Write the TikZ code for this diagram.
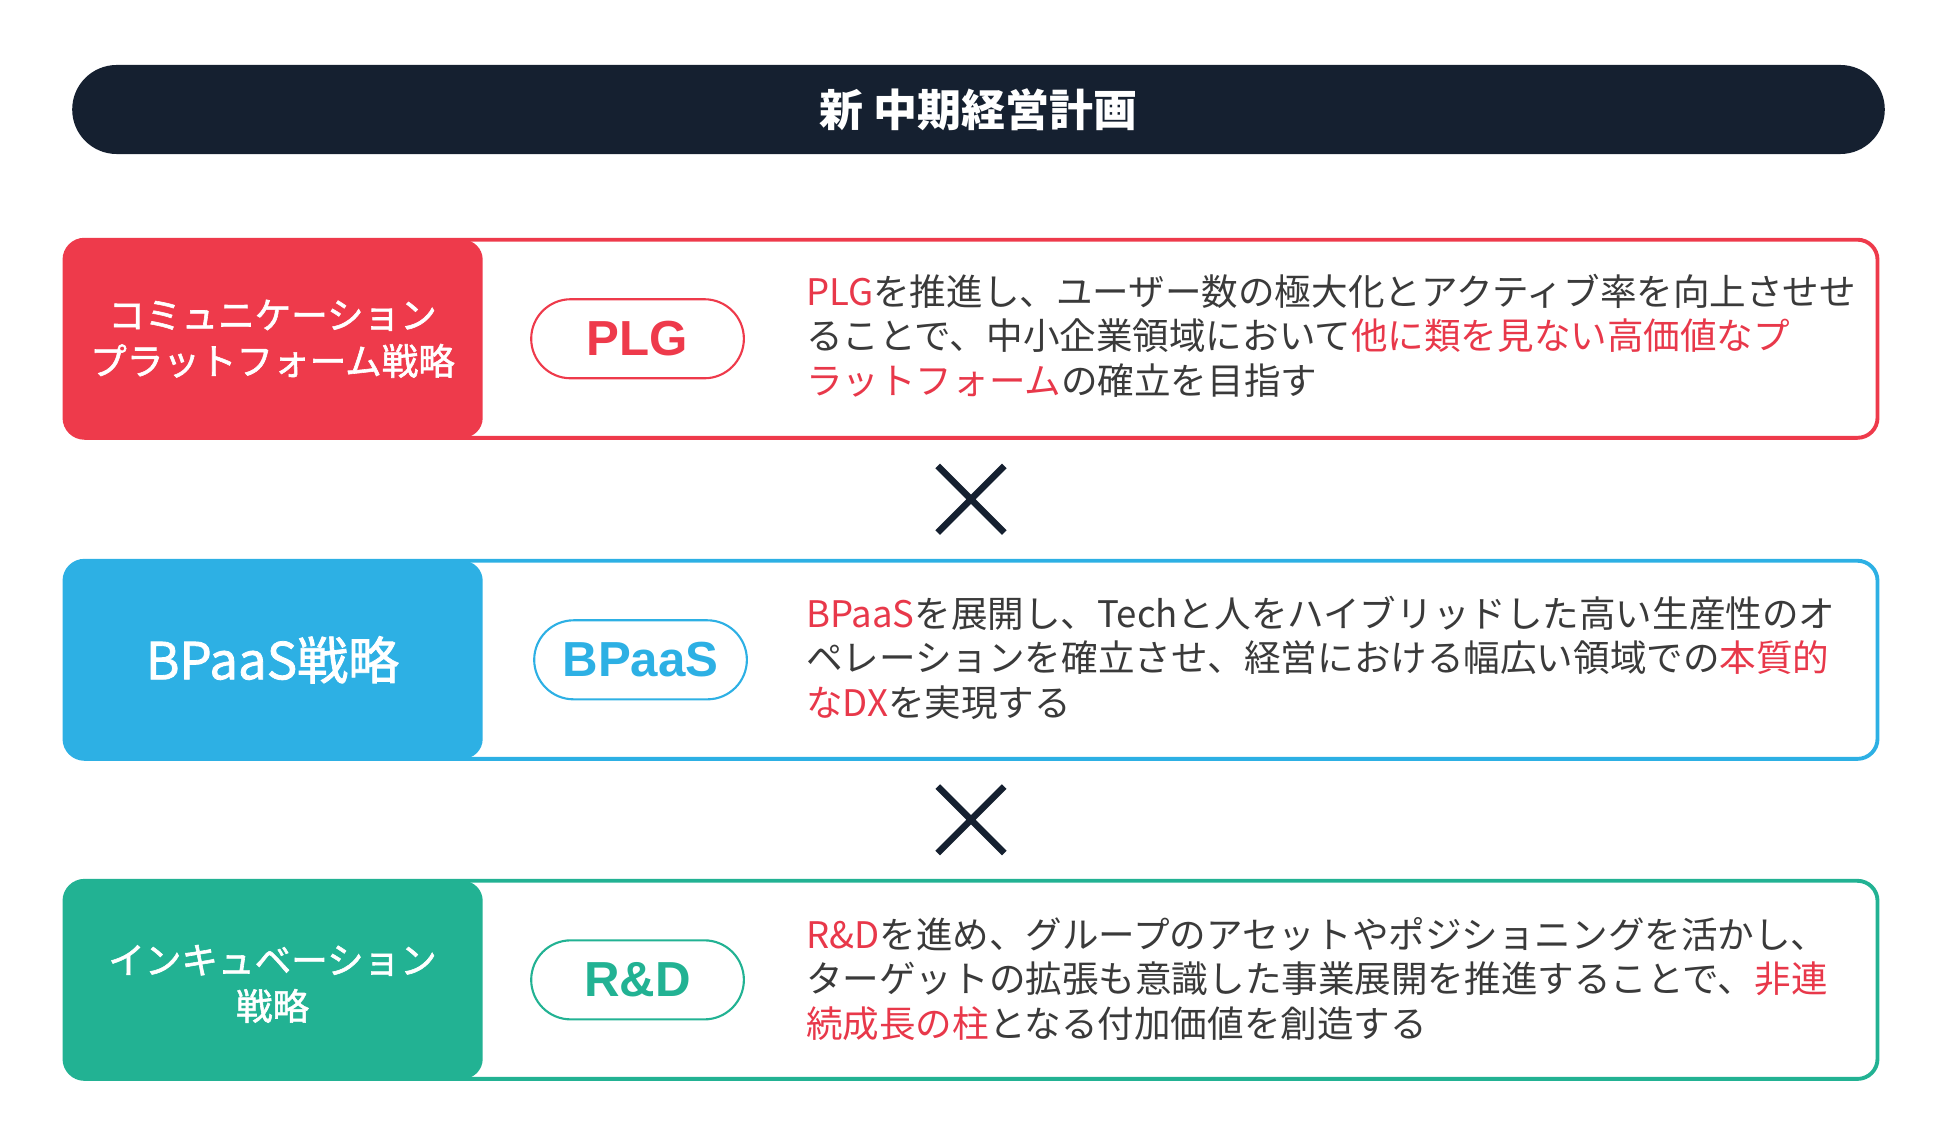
\documentclass[tikz,border=0pt]{standalone}
\usepackage{fontspec}
\setmainfont{Noto Sans CJK JP}
\newfontfamily\pillfont{Liberation Sans}
\newfontfamily\medfont{Noto Sans CJK JP}[FakeBold=1.6]
\usetikzlibrary{positioning,calc,shapes.misc}
\definecolor{NavyBar}{HTML}{152030}
\definecolor{PlgRed}{HTML}{EE3A4B}
\definecolor{BpaasBlue}{HTML}{2DB0E4}
\definecolor{RndGreen}{HTML}{22B293}
\definecolor{BodyGray}{HTML}{3A3A3A}
\definecolor{HiRed}{HTML}{E8384A}
\newcommand{\redpart}[1]{\textcolor{HiRed}{#1}}

\begin{document}
\begin{tikzpicture}[x=0.01cm, y=-0.01cm,
    titlebar/.style={shape=rounded rectangle, fill=NavyBar, text=white, minimum width=18.35cm, minimum height=0.89cm,
      font=\fontsize{12.5pt}{15pt}\selectfont\bfseries},
    rowbox/.style={draw=#1, line width=1.1pt, rounded corners=5.7pt, minimum width=18.12cm, minimum height=1.98cm,
      path picture={\fill[#1] (path picture bounding box.north west) rectangle ([xshift=4.18cm]path picture bounding box.south west);}},
    sidelabel/.style={text=white, align=center, font=\medfont\fontsize{10.4pt}{13.1pt}\selectfont},
    tagpill/.style={shape=rounded rectangle, draw=#1, text=#1, line width=0.6pt, minimum width=2.36cm, minimum height=0.79cm,
      font=\pillfont\fontsize{14pt}{16pt}\selectfont\bfseries},
    bodytext/.style={anchor=west, inner sep=0pt, align=left, text=BodyGray, font=\fontsize{10.4pt}{12.66pt}\selectfont},
    crossmark/.style={shape=cross out, draw=NavyBar, line width=1.85pt, minimum size=0.6cm, inner sep=0pt}]
  \useasboundingbox (0,0) rectangle (1950,1146);

  \node[titlebar] (title) at (978.5,109.5) {新 中期経営計画};

  % three strategy rows
  \node[rowbox=PlgRed, below=0.83cm of title, xshift=-0.075cm] (plgbox) {};
  \node[rowbox=BpaasBlue, below=1.19cm of plgbox] (bpaasbox) {};
  \node[rowbox=RndGreen, below=1.18cm of bpaasbox] (rndbox) {};

  \node[sidelabel] (plglabel) at ($(plgbox.west)+(210,0)$) {コミュニケーション\\プラットフォーム戦略};
  \node[sidelabel, font=\medfont\fontsize{14.5pt}{18pt}\selectfont] (bpaaslabel) at ($(bpaasbox.west)+(210,0)$) {BPaaS戦略};
  \node[sidelabel] (rndlabel) at ($(rndbox.west)+(210,4)$) {インキュベーション\\戦略};

  \node[tagpill=PlgRed] (plgpill) at ($(plgbox.west)+(575,0)$) {PLG};
  \node[tagpill=BpaasBlue] (bpaaspill) at ($(bpaasbox.west)+(578,0)$) {BPaaS};
  \node[tagpill=RndGreen] (rndpill) at ($(rndbox.west)+(575,0)$) {R\&D};

  \node[bodytext] (plgtext) at ($(plgbox.west)+(743,-3)$)
    {\redpart{PLG}を推進し、ユーザー数の極大化とアクティブ率を向上させせ\\ることで、中小企業領域において\redpart{他に類を見ない高価値なプ}\\\redpart{ラットフォーム}の確立を目指す};
  \node[bodytext] (bpaastext) at ($(bpaasbox.west)+(743,-2)$)
    {\redpart{BPaaS}を展開し、Techと人をハイブリッドした高い生産性のオ\\ペレーションを確立させ、経営における幅広い領域での\redpart{本質的}\\\redpart{なDX}を実現する};
  \node[bodytext] (rndtext) at ($(rndbox.west)+(743,-1)$)
    {\redpart{R\&D}を進め、グループのアセットやポジショニングを活かし、\\ターゲットの拡張も意識した事業展開を推進することで、\redpart{非連}\\\redpart{続成長の柱}となる付加価値を創造する};

  % multiplication marks between rows
  \node[crossmark] (cross1) at ($(plgbox.south)!0.5!(bpaasbox.north)$) {};
  \node[crossmark] (cross2) at ($(bpaasbox.south)!0.5!(rndbox.north)$) {};
\end{tikzpicture}
\end{document}
